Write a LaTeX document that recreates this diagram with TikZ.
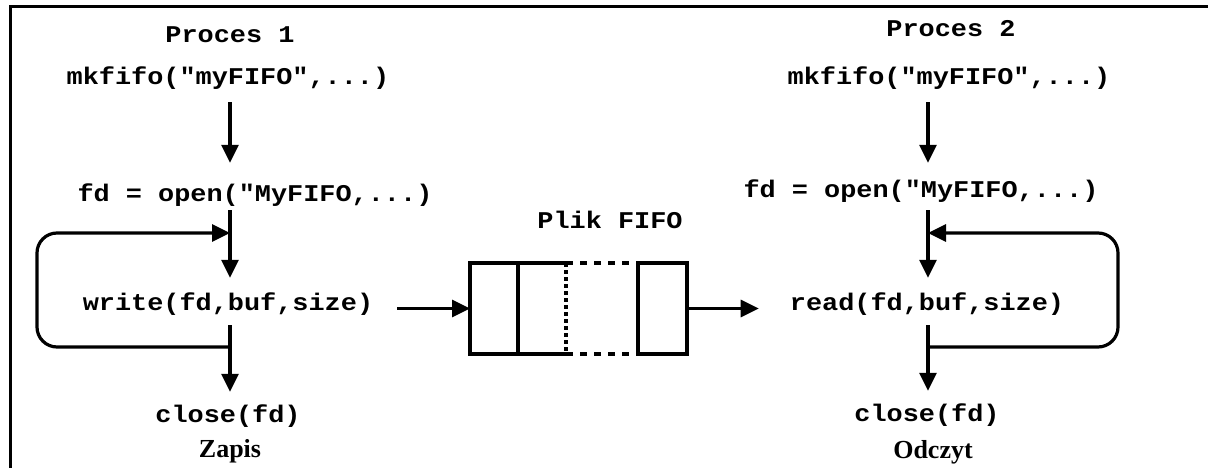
\documentclass[tikz,border=0pt]{standalone}
\usepackage{fontspec}
\usetikzlibrary{arrows.meta}
\newfontfamily\cour{Liberation Mono}[UprightFont=* Bold, FakeStretch=1.12]
\newfontfamily\tms{Liberation Serif}[UprightFont=* Bold]
\begin{document}
\begin{tikzpicture}[x=1pt,y=-1pt,
  code/.style={font={\cour\fontsize{24}{28}\selectfont}, inner sep=0pt, text height=16pt, text depth=5pt, anchor=base},
  lbl/.style={font={\tms\fontsize{26}{30}\selectfont}, inner sep=0pt, anchor=base},
  arr/.style={line width=3.2pt, -{Triangle[length=18pt,width=17pt]}},
  cell/.style={minimum height=91pt, inner sep=0pt, outer sep=0pt, line width=3.2pt},
]
\useasboundingbox (0,0) rectangle (1208,468);
% frame
\draw[line width=3pt] (10,475) -- (10,7) -- (1215,7);

% column axes
\coordinate (c1) at (230,0);
\coordinate (c2) at (928,0);

% left process
\node[code] (p1) at (230,43) {Proces 1};
\node[code] (mk1) at (228,85) {mkfifo("myFIFO",...)};
\node[code] (op1) at (255,201) {fd = open("MyFIFO,...)};
\node[code] (wr1) at (228,310) {write(fd,buf,size)};
\node[code] (cl1) at (228,422) {close(fd)};
\node[lbl] (zap) at (230,457) {Zapis};

% right process
\node[code] (p2) at (951,37) {Proces 2};
\node[code] (mk2) at (949,85) {mkfifo("myFIFO",...)};
\node[code] (op2) at (921,197) {fd = open("MyFIFO,...)};
\node[code] (rd2) at (927,310) {read(fd,buf,size)};
\node[code] (cl2) at (927,421) {close(fd)};
\node[lbl] (odc) at (933,458) {Odczyt};

% FIFO
\node[code] (fl) at (610,229) {Plik FIFO};
\node[cell, draw, minimum width=48pt] (b1) at (494,308.5) {};
\node[cell, minimum width=48pt] (b2) at (542,308.5) {};
\node[cell, draw, minimum width=49pt] (b4) at (662.5,308.5) {};
\draw[line width=3.2pt] (b2.north east) -- (b2.north west) -- (b2.south west) -- (b2.south east);
\draw[line width=3.2pt, dash pattern=on 4pt off 3pt] (b2.north east) -- (b2.south east);
\draw[line width=3.2pt, dash pattern=on 7pt off 7pt] (b2.north east) -- (b4.north west);
\draw[line width=3.2pt, dash pattern=on 7pt off 7pt] (b2.south east) -- (b4.south west);

% left connectors
\draw[arr, shorten <=12pt, shorten >=22pt] (mk1.south -| c1) -- (op1.north -| c1);
\draw[arr, shorten <=4pt, shorten >=16pt] (op1.south -| c1) -- (wr1.north -| c1);
\draw[arr, shorten <=10pt, shorten >=14pt] (wr1.south -| c1) -- (cl1.north -| c1);
\coordinate (l1) at (230,347);
\coordinate (l2) at (37,347);
\coordinate (l3) at (37,233);
\coordinate (l4) at (230,233);
\draw[arr, rounded corners=20pt] (l1) -- (l2) -- (l3) -- (l4);

% right connectors
\draw[arr, shorten <=12pt, shorten >=18pt] (mk2.south -| c2) -- (op2.north -| c2);
\draw[arr, shorten <=8pt, shorten >=16pt] (op2.south -| c2) -- (rd2.north -| c2);
\draw[arr, shorten <=10pt, shorten >=14pt] (rd2.south -| c2) -- (cl2.north -| c2);
\coordinate (r1) at (928,347);
\coordinate (r2) at (1118,347);
\coordinate (r3) at (1118,233);
\coordinate (r4) at (928,233);
\draw[arr, rounded corners=20pt] (r1) -- (r2) -- (r3) -- (r4);

% FIFO connectors
\draw[arr, shorten <=24pt] (wr1.east |- b1.west) -- (b1.west);
\draw[arr, shorten >=31pt] (b4.east) -- (rd2.west |- b4.east);
\end{tikzpicture}
\end{document}
